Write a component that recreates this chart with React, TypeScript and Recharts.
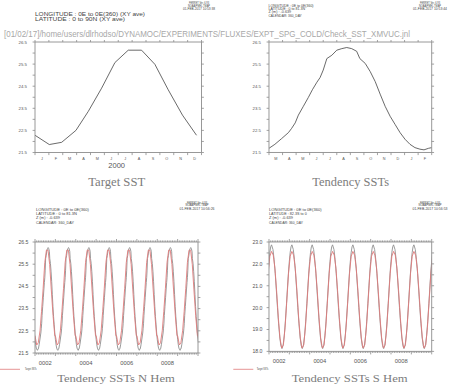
import React from 'react';
import { LineChart, Line, XAxis, YAxis } from 'recharts';

// ---------- data ----------
const monthLabelsTL = ['J', 'F', 'M', 'A', 'M', 'J', 'J', 'A', 'S', 'O', 'N', 'D'];
const monthLabelsTR = ['M', 'A', 'M', 'J', 'J', 'A', 'S', 'O', 'N', 'D', 'J', 'F'];

// Target SST (0-90N), x in months from 1 Jan
const targetMonth = [0, 1.03, 1.92, 2.95, 3.84, 4.8, 5.76, 6.72, 7.68, 8.64, 9.6, 10.63, 11.64];
const targetSST = [22.28, 21.86, 21.96, 22.5, 23.36, 24.41, 25.57, 26.13, 26.13, 25.49, 24.34, 23.19, 22.28];

// Tendency SSTs (N Hem), x in days from 1 Mar (360-day calendar)
const tendDay = [0, 13, 28, 43, 50, 58, 65, 76, 87, 96, 106, 113, 120, 128, 139, 150, 161, 172, 183, 194, 201, 213, 224, 235, 246, 257, 268, 279, 290, 301, 312, 323, 334, 343, 353, 360];
const tendSST = [21.69, 21.87, 22.13, 22.4, 22.59, 22.84, 23.19, 23.59, 23.99, 24.34, 24.68, 24.89, 25.23, 25.75, 25.9, 26.13, 26.2, 26.25, 26.2, 26.08, 25.75, 25.53, 25.16, 24.71, 24.14, 23.59, 23.14, 22.77, 22.4, 22.1, 21.87, 21.72, 21.65, 21.62, 21.69, 21.72];

// S Hem target SSTs (days from 1 Jan)
const targetSDay = [15, 45, 75, 105, 135, 165, 195, 225, 255, 285, 315, 345];
const targetSSST = [22.35, 22.57, 22.4, 21.8, 20.75, 19.55, 18.6, 18.15, 18.3, 19.1, 20.3, 21.55];

// S Hem tendency SSTs (days from 1 Jan)
const tendSDay = [0, 15, 30, 45, 70, 90, 110, 130, 150, 170, 190, 210, 230, 250, 270, 290, 310, 330, 350];
const tendSSST = [22.12, 22.53, 22.78, 22.87, 22.66, 22.21, 21.57, 20.8, 20.0, 19.26, 18.66, 18.26, 18.13, 18.28, 18.71, 19.38, 20.18, 21.03, 21.81];

const yearLabels = ['0002', '0004', '0006', '0008'];
const yearLabelAt = [2.5, 4.5, 6.5, 8.5];
const yTicksN = [21.5, 22, 22.5, 23, 23.5, 24, 24.5, 25, 25.5, 26, 26.5];
const yTicksS = [18, 18.5, 19, 19.5, 20, 20.5, 21, 21.5, 22, 22.5, 23];
const yearsN = [1, 2, 3, 4, 5, 6, 7, 8, 9, 10];

// ---------- tables built from the arrays ----------
const tlData = targetMonth.map((m, i) => ({ t: m, v: targetSST[i] }));
const trData = tendDay.map((d, i) => ({ t: d, v: tendSST[i] }));
const blTarget = yearsN.flatMap((y) => targetMonth.map((m, i) => ({ t: y + m / 12, v: targetSST[i] })));
const blTend = yearsN.flatMap((y) => tendDay.slice(0, -1).map((d, i) => ({ t: y + (60 + d) / 360, v: tendSST[i] })));
const brTarget = yearsN.flatMap((y) => targetSDay.map((d, i) => ({ t: y + d / 360, v: targetSSST[i] })));
const brTend = yearsN.flatMap((y) => tendSDay.map((d, i) => ({ t: y + d / 360, v: tendSSST[i] })));

const monthBounds = [...monthLabelsTL.map((_, i) => i), 12];
const monthCenters = monthLabelsTL.map((_, i) => i + 0.5);
const dayBounds = [...monthLabelsTR.map((_, i) => i * 30), 360];
const dayCenters = monthLabelsTR.map((_, i) => i * 30 + 15);
const yearMonthTicks = Array.from({ length: 97 }, (_, k) => 2 + k / 12);

// ---------- styling ----------
const AX = '#8c8c8c';
const TXT = '#555';
const SANS = 'Liberation Sans, Arial, sans-serif';
const SERIF = 'Liberation Serif, serif';

const isInt = (v: number) => Math.abs(v - Math.round(v)) < 1e-6;
const near = (v: number, arr: number[]) => arr.findIndex((a) => Math.abs(a - v) < 1e-6);

type Side = 'top' | 'bottom' | 'left' | 'right';
function tickRenderer(side: Side, lenFn: (v: number) => number, labelFn: (v: number) => string, font: number, gap: number) {
  return (p: any) => {
    const v = p.payload.value as number;
    const x = p.x as number;
    const y = p.y as number;
    const L = lenFn(v);
    const s = labelFn(v);
    let ln: any = null;
    let tx: any = null;
    if (side === 'bottom') {
      if (L > 0) ln = <line x1={x} y1={y} x2={x} y2={y + L} stroke={AX} strokeWidth={0.8} />;
      if (s) tx = <text x={x} y={y + gap} textAnchor="middle" fontSize={font} fill={TXT} fontFamily={SANS}>{s}</text>;
    } else if (side === 'top') {
      if (L > 0) ln = <line x1={x} y1={y - L} x2={x} y2={y} stroke={AX} strokeWidth={0.8} />;
    } else if (side === 'left') {
      if (L > 0) ln = <line x1={x - L} y1={y} x2={x} y2={y} stroke={AX} strokeWidth={0.8} />;
      if (s) tx = <text x={x - gap} y={y} dy="0.36em" textAnchor="end" fontSize={font} fill={TXT} fontFamily={SANS}>{s}</text>;
    } else {
      if (L > 0) ln = <line x1={x} y1={y} x2={x + L} y2={y} stroke={AX} strokeWidth={0.8} />;
    }
    return <g>{ln}{tx}</g>;
  };
}

type Series = { data: { t: number; v: number }[]; color: string; width: number };
type PanelProps = {
  box: [number, number, number, number];
  xDomain: [number, number];
  xTicksB: number[];
  xTicksT: number[];
  xLenB: (v: number) => number;
  xLenT: (v: number) => number;
  xLabel: (v: number) => string;
  xFont: number;
  xGap: number;
  yDomain: [number, number];
  yTicks: number[];
  yLabel: (v: number) => string;
  yFont: number;
  yGap: number;
  series: Series[];
};

function Panel(pp: PanelProps) {
  const [l, t, r, b] = pp.box;
  const ml = 30, mt = 12, mr = 14, mb = 16;
  const W = r - l + ml + mr;
  const H = b - t + mt + mb;
  return (
    <div style={{ position: 'absolute', left: l - ml, top: t - mt, width: W, height: H }}>
      <LineChart width={W} height={H} margin={{ top: mt - 1, right: mr - 1, bottom: mb - 1, left: ml - 1 }} style={{ overflow: 'visible' }}>
        <XAxis xAxisId="b" type="number" dataKey="t" domain={pp.xDomain} allowDataOverflow ticks={pp.xTicksB} interval={0}
          height={1} tickSize={0} tickMargin={0} tickLine={false} axisLine={{ stroke: AX, strokeWidth: 0.9 }}
          tick={tickRenderer('bottom', pp.xLenB, pp.xLabel, pp.xFont, pp.xGap)} />
        <XAxis xAxisId="t" orientation="top" type="number" dataKey="t" domain={pp.xDomain} allowDataOverflow ticks={pp.xTicksT} interval={0}
          height={1} tickSize={0} tickMargin={0} tickLine={false} axisLine={{ stroke: AX, strokeWidth: 0.9 }}
          tick={tickRenderer('top', pp.xLenT, () => '', 0, 0)} />
        <YAxis yAxisId="l" type="number" dataKey="v" domain={pp.yDomain} allowDataOverflow ticks={pp.yTicks} interval={0}
          width={1} tickSize={0} tickMargin={0} tickLine={false} axisLine={{ stroke: AX, strokeWidth: 0.9 }}
          tick={tickRenderer('left', () => 2.4, pp.yLabel, pp.yFont, pp.yGap)} />
        <YAxis yAxisId="r" orientation="right" type="number" dataKey="v" domain={pp.yDomain} allowDataOverflow ticks={pp.yTicks} interval={0}
          width={1} tickSize={0} tickMargin={0} tickLine={false} axisLine={{ stroke: AX, strokeWidth: 0.9 }}
          tick={tickRenderer('right', () => 2.4, () => '', 0, 0)} />
        {pp.series.map((s, i) => (
          <Line key={i} xAxisId="b" yAxisId="l" data={s.data} dataKey="v" type="linear" dot={false} activeDot={false}
            stroke={s.color} strokeWidth={s.width} isAnimationActive={false} />
        ))}
      </LineChart>
    </div>
  );
}

const labelN = (v: number) => (isInt(v - 0.5) ? v.toFixed(1) : '');
const labelS = (v: number) => (isInt(v) ? v.toFixed(1) : '');

function Txt(props: { x: number; y: number; s: string; fs: number; w?: number; anchor?: string; fill?: string; family?: string }) {
  const { x, y, s, fs, w, anchor = 'start', fill = '#444', family = SANS } = props;
  return (
    <text x={x} y={y} fontSize={fs} textLength={w} lengthAdjust={w ? 'spacingAndGlyphs' : undefined}
      textAnchor={anchor as any} fill={fill} fontFamily={family}>{s}</text>
  );
}

export default function App() {
  return (
    <div style={{ position: 'absolute', left: 0, top: 0, width: 449, height: 384, background: '#fff', overflow: 'hidden' }}>
      <Panel
        box={[35, 41.5, 201.5, 152]}
        xDomain={[0, 12]}
        xTicksB={[...monthBounds, ...monthCenters]}
        xTicksT={monthBounds}
        xLenB={(v) => (isInt(v) ? 2.6 : 0)}
        xLenT={() => 2}
        xLabel={(v) => (isInt(v) ? '' : monthLabelsTL[Math.floor(v)])}
        xFont={3.8}
        xGap={7.6}
        yDomain={[21.5, 26.5]}
        yTicks={yTicksN}
        yLabel={labelN}
        yFont={4.4}
        yGap={8}
        series={[{ data: tlData, color: '#444', width: 0.8 }]}
      />
      <Panel
        box={[269, 41.5, 431.7, 152]}
        xDomain={[0, 360]}
        xTicksB={[...dayBounds, ...dayCenters]}
        xTicksT={dayBounds}
        xLenB={(v) => (near(v, dayBounds) >= 0 ? 2.6 : 0)}
        xLenT={() => 2}
        xLabel={(v) => (near(v, dayBounds) >= 0 ? '' : monthLabelsTR[Math.floor(v / 30)])}
        xFont={3.8}
        xGap={7.6}
        yDomain={[21.5, 26.5]}
        yTicks={yTicksN}
        yLabel={labelN}
        yFont={4.4}
        yGap={8}
        series={[{ data: trData, color: '#444', width: 0.8 }]}
      />
      <Panel
        box={[35, 241.7, 198, 352.7]}
        xDomain={[2, 10]}
        xTicksB={yearMonthTicks}
        xTicksT={yearMonthTicks}
        xLenB={(v) => (isInt(v) ? 3 : 1.6)}
        xLenT={(v) => (isInt(v) ? 3 : 1.6)}
        xLabel={(v) => { const k = near(v, yearLabelAt); return k >= 0 ? yearLabels[k] : ''; }}
        xFont={5.8}
        xGap={11.5}
        yDomain={[21.5, 26.5]}
        yTicks={yTicksN}
        yLabel={labelN}
        yFont={5.2}
        yGap={6.5}
        series={[
          { data: blTend, color: '#8f8f8f', width: 0.9 },
          { data: blTarget, color: '#e07a7a', width: 0.9 },
        ]}
      />
      <Panel
        box={[269, 242.3, 431.7, 351.7]}
        xDomain={[2, 10]}
        xTicksB={yearMonthTicks}
        xTicksT={yearMonthTicks}
        xLenB={(v) => (isInt(v) ? 3 : 1.6)}
        xLenT={(v) => (isInt(v) ? 3 : 1.6)}
        xLabel={(v) => { const k = near(v, yearLabelAt); return k >= 0 ? yearLabels[k] : ''; }}
        xFont={5.8}
        xGap={11.5}
        yDomain={[18, 23]}
        yTicks={yTicksS}
        yLabel={labelS}
        yFont={5.2}
        yGap={6.5}
        series={[
          { data: brTend, color: '#8f8f8f', width: 0.9 },
          { data: brTarget, color: '#e07a7a', width: 0.9 },
        ]}
      />
      <svg width={449} height={384} style={{ position: 'absolute', left: 0, top: 0, pointerEvents: 'none' }}>
        {/* top-left header */}
        <Txt x={35} y={15.6} s="LONGITUDE : 0E to 0E(360) (XY ave)" fs={5.6} w={110} />
        <Txt x={35} y={21.3} s="LATITUDE : 0 to 90N (XY ave)" fs={5.6} w={90} />
        <Txt x={199} y={4.3} s="FERRET Ver. 6.93" fs={2.7} w={20} anchor="middle" />
        <Txt x={199} y={7} s="NOAA/PMEL TMAP" fs={2.7} w={22} anchor="middle" />
        <Txt x={199} y={9.7} s="01-FEB-2017 10:53:38" fs={2.7} w={32} anchor="middle" />
        {/* top-right header */}
        <Txt x={268.5} y={6.6} s="LONGITUDE : 0E to 0E(360)" fs={3.4} w={45} />
        <Txt x={268.5} y={9.9} s="LATITUDE : 0 to 81.3N" fs={3.4} w={36.7} />
        <Txt x={268.5} y={13.2} s="Z (m) : -0.639" fs={3.4} w={22.7} />
        <Txt x={268.5} y={16.5} s="CALENDAR: 360_DAY" fs={3.4} w={33.3} />
        <Txt x={430} y={4.3} s="FERRET Ver. 6.93" fs={2.7} w={20} anchor="middle" />
        <Txt x={430} y={7} s="NOAA/PMEL TMAP" fs={2.7} w={22} anchor="middle" />
        <Txt x={430} y={9.7} s="01-FEB-2017 10:53:44" fs={2.7} w={34} anchor="middle" />
        {/* path line */}
        <Txt x={4} y={36.7} s="[01/02/17]/home/users/dlrhodso/DYNAMOC/EXPERIMENTS/FLUXES/EXPT_SPG_COLD/Check_SST_XMVUC.jnl" fs={8.6} w={406} fill="#a8a8a8" />
        {/* titles */}
        <Txt x={116.7} y={185.7} s="Target SST" fs={12.5} w={57} anchor="middle" fill="#7c7c7c" family={SERIF} />
        <Txt x={116.7} y={168.3} s="2000" fs={6.4} w={16.7} anchor="middle" fill={TXT} />
        <Txt x={350.7} y={186.3} s="Tendency SSTs" fs={12.5} w={76.7} anchor="middle" fill="#7c7c7c" family={SERIF} />
        {/* bottom-left header */}
        <Txt x={36} y={210.6} s="LONGITUDE : 0E to 0E(360)" fs={4} w={53} />
        <Txt x={36} y={214.9} s="LATITUDE : 0 to 81.3N" fs={4} w={41} />
        <Txt x={36} y={219.2} s="Z (m) : -0.639" fs={4} w={24} />
        <Txt x={36} y={223.5} s="CALENDAR: 360_DAY" fs={4} w={38} />
        <Txt x={197} y={203.5} s="FERRET Ver. 6.93" fs={2.9} w={20} anchor="middle" />
        <Txt x={197} y={206.4} s="NOAA/PMEL TMAP" fs={2.9} w={23} anchor="middle" />
        <Txt x={197} y={209.5} s="01-FEB-2017 10:56:26" fs={2.9} w={35} anchor="middle" />
        {/* bottom-right header */}
        <Txt x={269} y={210.6} s="LONGITUDE : 0E to 0E(360)" fs={4} w={52.7} />
        <Txt x={269} y={214.9} s="LATITUDE : 82.3S to 0" fs={4} w={37.7} />
        <Txt x={269} y={219.2} s="Z (m) : -0.639" fs={4} w={24} />
        <Txt x={269} y={223.5} s="CALENDAR: 360_DAY" fs={4} w={34} />
        <Txt x={430} y={203.5} s="FERRET Ver. 6.93" fs={2.9} w={20} anchor="middle" />
        <Txt x={430} y={206.4} s="NOAA/PMEL TMAP" fs={2.9} w={23} anchor="middle" />
        <Txt x={430} y={209.5} s="01-FEB-2017 10:56:53" fs={2.9} w={35} anchor="middle" />
        {/* legends */}
        <line x1={0} y1={369.3} x2={20} y2={369.3} stroke="#e07a7a" strokeWidth={0.8} />
        <Txt x={25} y={370.3} s="Target SSTs" fs={2.8} w={11.7} />
        <line x1={233.3} y1={369.3} x2={253.3} y2={369.3} stroke="#e07a7a" strokeWidth={0.8} />
        <Txt x={256.7} y={370.3} s="Target SSTs" fs={2.8} w={11.7} />
        {/* bottom titles */}
        <Txt x={116} y={381.7} s="Tendency SSTs N Hem" fs={10} w={117.7} anchor="middle" fill="#7c7c7c" family={SERIF} />
        <Txt x={349.7} y={381.7} s="Tendency SSTs S Hem" fs={10} w={116} anchor="middle" fill="#7c7c7c" family={SERIF} />
      </svg>
    </div>
  );
}
